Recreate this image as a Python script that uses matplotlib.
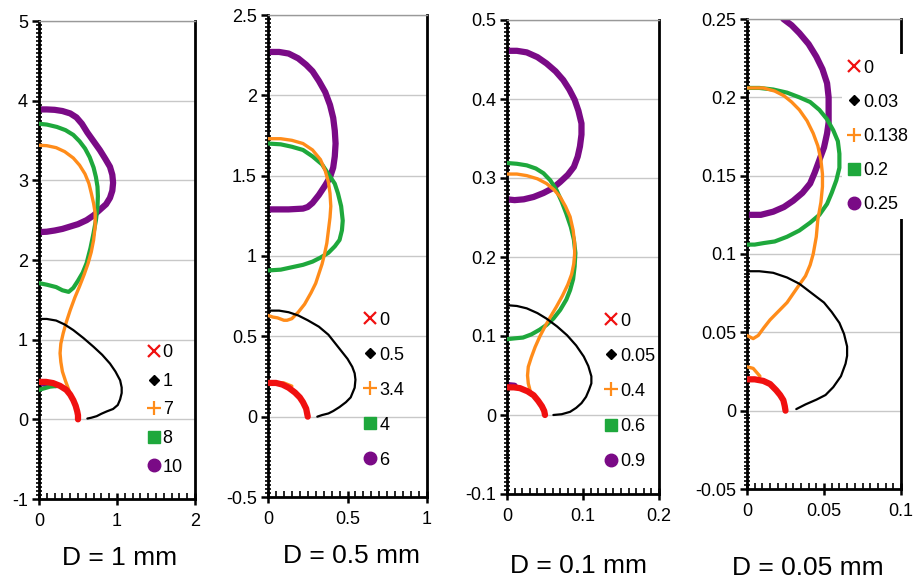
import numpy as np
import matplotlib
matplotlib.use("Agg")
import matplotlib.pyplot as plt
from matplotlib.lines import Line2D
from matplotlib.ticker import AutoMinorLocator

plt.rcParams['font.family'] = ['Liberation Sans', 'DejaVu Sans']

# ==========================
# DATA  (x, y), (None, None) = break
# ==========================
TITLES = ["D = 1 mm", "D = 0.5 mm", "D = 0.1 mm", "D = 0.05 mm"]

LEG1 = ["0", "1", "7", "8", "10"]
LEG2 = ["0", "0.5", "3.4", "4", "6"]
LEG3 = ["0", "0.05", "0.4", "0.6", "0.9"]
LEG4 = ["0", "0.03", "0.138", "0.2", "0.25"]

XT1 = [0, 1, 2]
YT1 = [-1, 0, 1, 2, 3, 4, 5]
XT2 = [0, 0.5, 1]
YT2 = [-0.5, 0, 0.5, 1, 1.5, 2, 2.5]
XT3 = [0, 0.1, 0.2]
YT3 = [-0.1, 0, 0.1, 0.2, 0.3, 0.4, 0.5]
XT4 = [0, 0.05, 0.1]
YT4 = [-0.05, 0, 0.05, 0.1, 0.15, 0.2, 0.25]

# panel 1 (D = 1 mm)
p1_red = [(0, 0.47), (0.09, 0.47), (0.18, 0.455), (0.27, 0.42), (0.35, 0.37), (0.40, 0.31),
          (0.44, 0.24), (0.47, 0.17), (0.49, 0.10), (0.50, 0.05), (0.50, 0.0)]
p1_black = [(0, 1.26), (0.1, 1.26), (0.22, 1.24), (0.33, 1.19), (0.44, 1.12), (0.57, 1.02),
            (0.70, 0.91), (0.81, 0.81), (0.91, 0.70), (0.98, 0.60), (1.04, 0.49), (1.06, 0.40),
            (1.06, 0.33), (1.04, 0.25), (1.01, 0.18), (0.95, 0.13), (0.87, 0.10), (0.80, 0.07),
            (0.74, 0.04), (0.67, 0.02), (0.62, 0.01)]
p1_orange = [(0, 3.44), (0.1, 3.435), (0.22, 3.41), (0.33, 3.36), (0.44, 3.28), (0.52, 3.19),
             (0.59, 3.08), (0.64, 2.96), (0.67, 2.84), (0.70, 2.71), (0.72, 2.59), (0.72, 2.42),
             (0.70, 2.25), (0.67, 2.10), (0.63, 1.96), (0.58, 1.82), (0.52, 1.67), (0.46, 1.53),
             (0.40, 1.37), (0.35, 1.22), (0.31, 1.08), (0.28, 0.95), (0.27, 0.83), (0.28, 0.72),
             (0.30, 0.60), (0.34, 0.48), (0.39, 0.35), (0.44, 0.24), (0.48, 0.13), (0.50, 0.04)]
p1_green = [(0, 3.71), (0.1, 3.70), (0.23, 3.67), (0.34, 3.63), (0.44, 3.57), (0.52, 3.49),
            (0.59, 3.40), (0.65, 3.29), (0.70, 3.16), (0.73, 3.04), (0.75, 2.92), (0.755, 2.80),
            (0.75, 2.67), (0.73, 2.50), (0.70, 2.34), (0.66, 2.15), (0.61, 1.96), (0.56, 1.84),
            (0.50, 1.74), (0.44, 1.65), (0.38, 1.60), (0.30, 1.62), (0.22, 1.66), (0.10, 1.69),
            (0, 1.71), (None, None), (0, 0.37), (0.14, 0.41), (0.24, 0.42)]
p1_purple = [(0, 3.89), (0.1, 3.89), (0.2, 3.885), (0.3, 3.87), (0.4, 3.84), (0.48, 3.79),
             (0.55, 3.71), (0.62, 3.60), (0.70, 3.49), (0.78, 3.38), (0.85, 3.27), (0.91, 3.17),
             (0.94, 3.07), (0.95, 2.97), (0.94, 2.87), (0.91, 2.78), (0.86, 2.70), (0.78, 2.63),
             (0.70, 2.56), (0.61, 2.50), (0.50, 2.45), (0.40, 2.42), (0.30, 2.39), (0.20, 2.37),
             (0.10, 2.355), (0, 2.35), (None, None), (0.05, 0.45), (0.22, 0.43)]

# panel 2 (D = 0.5 mm)
p2_red = [(0, 0.21), (0.05, 0.21), (0.09, 0.20), (0.13, 0.18), (0.17, 0.15), (0.20, 0.12),
          (0.22, 0.09), (0.24, 0.05), (0.25, 0.0)]
p2_black = [(0, 0.66), (0.07, 0.66), (0.13, 0.65), (0.19, 0.63), (0.25, 0.60), (0.32, 0.56),
            (0.38, 0.51), (0.42, 0.46), (0.46, 0.41), (0.50, 0.36), (0.53, 0.31), (0.545, 0.27),
            (0.55, 0.23), (0.545, 0.18), (0.52, 0.12), (0.49, 0.09), (0.45, 0.06), (0.41, 0.035),
            (0.38, 0.02), (0.34, 0.01), (0.31, 0.0)]
p2_orange = [(0, 1.73), (0.08, 1.73), (0.15, 1.72), (0.22, 1.70), (0.28, 1.66), (0.33, 1.60),
             (0.36, 1.53), (0.38, 1.46), (0.39, 1.39), (0.395, 1.31), (0.39, 1.24), (0.38, 1.16),
             (0.37, 1.08), (0.355, 1.01), (0.34, 0.95), (0.32, 0.89), (0.30, 0.83), (0.27, 0.77),
             (0.23, 0.70), (0.19, 0.65), (0.15, 0.61), (0.12, 0.60), (0.10, 0.60), (0.06, 0.615),
             (0.03, 0.62), (0, 0.63), (None, None), (0.02, 0.21), (0.10, 0.21), (0.15, 0.19)]
p2_green = [(0, 1.70), (0.08, 1.695), (0.15, 1.68), (0.22, 1.66), (0.28, 1.62), (0.34, 1.57),
            (0.38, 1.51), (0.42, 1.45), (0.44, 1.39), (0.46, 1.31), (0.47, 1.22), (0.465, 1.16),
            (0.45, 1.10), (0.42, 1.06), (0.38, 1.02), (0.33, 0.99), (0.28, 0.965), (0.22, 0.945),
            (0.15, 0.93), (0.08, 0.915), (0, 0.91)]
p2_purple = [(0, 2.27), (0.07, 2.27), (0.13, 2.26), (0.19, 2.23), (0.24, 2.19), (0.28, 2.15),
             (0.32, 2.09), (0.36, 2.02), (0.39, 1.94), (0.41, 1.86), (0.42, 1.78), (0.425, 1.70),
             (0.42, 1.62), (0.41, 1.55), (0.39, 1.49), (0.36, 1.44), (0.32, 1.38), (0.28, 1.33),
             (0.25, 1.305), (0.22, 1.295), (0.13, 1.29), (0, 1.29)]

# panel 3 (D = 0.1 mm)
p3_red = [(0, 0.035), (0.009, 0.035), (0.017, 0.034), (0.027, 0.030), (0.035, 0.025),
          (0.041, 0.018), (0.046, 0.011), (0.049, 0.005), (0.050, 0.0)]
p3_black = [(0, 0.139), (0.013, 0.138), (0.026, 0.135), (0.040, 0.129), (0.052, 0.122),
            (0.066, 0.112), (0.079, 0.101), (0.091, 0.088), (0.101, 0.074), (0.107, 0.062),
            (0.111, 0.049), (0.111, 0.040), (0.108, 0.032), (0.104, 0.023), (0.098, 0.015),
            (0.091, 0.009), (0.083, 0.004), (0.072, 0.001), (0.061, 0.0)]
p3_orange = [(0, 0.305), (0.013, 0.305), (0.026, 0.303), (0.040, 0.299), (0.052, 0.293),
             (0.062, 0.285), (0.070, 0.276), (0.077, 0.264), (0.083, 0.251), (0.087, 0.234),
             (0.089, 0.217), (0.089, 0.204), (0.088, 0.192), (0.085, 0.178), (0.080, 0.165),
             (0.073, 0.151), (0.065, 0.137), (0.057, 0.124), (0.050, 0.112), (0.043, 0.099),
             (0.037, 0.086), (0.032, 0.073), (0.028, 0.061), (0.027, 0.050), (0.028, 0.040),
             (0.032, 0.025)]
p3_green = [(0, 0.319), (0.013, 0.318), (0.026, 0.316), (0.038, 0.312), (0.048, 0.306),
            (0.057, 0.297), (0.065, 0.285), (0.072, 0.270), (0.078, 0.255), (0.084, 0.238),
            (0.088, 0.222), (0.090, 0.205), (0.089, 0.188), (0.087, 0.172), (0.083, 0.158),
            (0.078, 0.146), (0.070, 0.133), (0.061, 0.122), (0.052, 0.114), (0.043, 0.108),
            (0.032, 0.102), (0.021, 0.098), (0.010, 0.097), (0, 0.096)]
p3_purple = [(0, 0.461), (0.013, 0.461), (0.026, 0.459), (0.040, 0.453), (0.052, 0.445),
             (0.064, 0.435), (0.074, 0.424), (0.082, 0.412), (0.089, 0.399), (0.094, 0.385),
             (0.098, 0.369), (0.098, 0.355), (0.096, 0.340), (0.093, 0.327), (0.088, 0.314),
             (0.080, 0.304), (0.070, 0.295), (0.060, 0.287), (0.048, 0.281), (0.035, 0.276),
             (0.022, 0.273), (0.010, 0.272), (0, 0.273), (None, None), (0.0, 0.038),
             (0.010, 0.037)]

# panel 4 (D = 0.05 mm)
p4_red = [(0, 0.020), (0.005, 0.020), (0.0106, 0.019), (0.015, 0.017), (0.019, 0.013),
          (0.0215, 0.010), (0.0236, 0.0067), (0.0245, 0.003), (0.025, 0.0)]
p4_black = [(0, 0.089), (0.008, 0.089), (0.017, 0.088), (0.026, 0.085), (0.034, 0.081),
            (0.042, 0.075), (0.050, 0.069), (0.055, 0.063), (0.060, 0.056), (0.063, 0.049),
            (0.065, 0.041), (0.065, 0.035), (0.064, 0.030), (0.061, 0.022), (0.056, 0.015),
            (0.051, 0.010), (0.045, 0.007), (0.038, 0.004), (0.032, 0.001)]
p4_orange = [(0, 0.206), (0.0105, 0.206), (0.018, 0.204), (0.024, 0.201), (0.029, 0.197),
             (0.034, 0.192), (0.039, 0.185), (0.043, 0.177), (0.046, 0.169), (0.048, 0.160),
             (0.049, 0.151), (0.049, 0.143), (0.048, 0.133), (0.046, 0.122), (0.045, 0.111),
             (0.043, 0.100), (0.041, 0.093), (0.038, 0.086), (0.033, 0.079), (0.026, 0.069),
             (0.020, 0.063), (0.015, 0.058), (0.011, 0.053), (0.0073, 0.048), (0.004, 0.046),
             (0.002, 0.047), (0, 0.048), (None, None), (0, 0.028), (0.004, 0.027), (0.0084, 0.022)]
p4_green = [(0, 0.206), (0.008, 0.206), (0.017, 0.205), (0.026, 0.203), (0.034, 0.200),
            (0.041, 0.197), (0.047, 0.192), (0.052, 0.186), (0.056, 0.179), (0.059, 0.172),
            (0.060, 0.164), (0.060, 0.155), (0.058, 0.147), (0.055, 0.139), (0.052, 0.132),
            (0.047, 0.125), (0.041, 0.120), (0.034, 0.115), (0.026, 0.111), (0.018, 0.108),
            (0.011, 0.107), (0.005, 0.106), (0, 0.106)]
p4_purple = [(0.0236, 0.25), (0.029, 0.246), (0.034, 0.241), (0.040, 0.234), (0.045, 0.226),
             (0.049, 0.218), (0.052, 0.209), (0.053, 0.200), (0.053, 0.192), (0.053, 0.184),
             (0.052, 0.177), (0.050, 0.168), (0.047, 0.160), (0.044, 0.152), (0.041, 0.145),
             (0.036, 0.139), (0.030, 0.134), (0.024, 0.130), (0.017, 0.127), (0.009, 0.125),
             (0, 0.125)]

# ==========================
# STYLE
# ==========================
RED = "#f01010"
BLACK = "#000000"
ORANGE = "#ff8c1a"
GREEN = "#1ea83c"
PURPLE = "#7a0a86"

# (color, linewidth, zorder, legend marker, legend size)
SERIES = [
    (RED, 4.5, 6, "x", 8),
    (BLACK, 1.6, 5, "D", 5),
    (ORANGE, 2.4, 4, "+", 10),
    (GREEN, 3.0, 3, "s", 8),
    (PURPLE, 4.5, 2, "o", 9),
]

PANELS = [
    dict(curves=[p1_red, p1_black, p1_orange, p1_green, p1_purple], leg=LEG1,
         xt=XT1, yt=YT1, pos=[39, 21, 195, 499], legxy=(0.66, 0.335), spacing=0.64,
         title_xy=(120, 558)),
    dict(curves=[p2_red, p2_black, p2_orange, p2_green, p2_purple], leg=LEG2,
         xt=XT2, yt=YT2, pos=[268, 15, 427, 497], legxy=(0.57, 0.396), spacing=1.0,
         title_xy=(351, 556)),
    dict(curves=[p3_red, p3_black, p3_orange, p3_green, p3_purple], leg=LEG3,
         xt=XT3, yt=YT3, pos=[507, 20, 659, 494], legxy=(0.606, 0.394), spacing=1.0,
         title_xy=(578, 566)),
    dict(curves=[p4_red, p4_black, p4_orange, p4_green, p4_purple], leg=LEG4,
         xt=XT4, yt=YT4, pos=[747, 19, 901, 489], legxy=(0.62, 0.925), spacing=0.95,
         title_xy=(808, 568)),
]

W, H = 913, 584
fig = plt.figure(figsize=(W / 100, H / 100), dpi=100)

for i, p in enumerate(PANELS):
    x0, y0, x1, y1 = p["pos"]
    ax = fig.add_axes([x0 / W, 1 - y1 / H, (x1 - x0) / W, (y1 - y0) / H])

    for (color, lw, z, mk, ms), pts in zip(SERIES, p["curves"]):
        arr = np.array(pts, dtype=float)
        ax.plot(arr[:, 0], arr[:, 1], color=color, lw=lw, zorder=z,
                solid_capstyle="round", solid_joinstyle="round")

    ax.set_xlim(p["xt"][0], p["xt"][-1])
    ax.set_ylim(p["yt"][0], p["yt"][-1])
    ax.set_xticks(p["xt"])
    ax.set_xticklabels([f"{v:g}" for v in p["xt"]])
    ax.set_yticks(p["yt"])
    ax.set_yticklabels([f"{v:g}" for v in p["yt"]])
    ax.xaxis.set_minor_locator(AutoMinorLocator(10))
    ax.yaxis.set_minor_locator(AutoMinorLocator(20))

    ax.tick_params(axis="both", which="major", direction="out", length=5, width=1.8,
                   labelsize=13, pad=3, colors="black")
    ax.tick_params(axis="y", which="minor", direction="inout", length=5, width=1.2)
    ax.tick_params(axis="x", which="minor", direction="in", length=4, width=1.2)
    ax.tick_params(axis="x", which="major", direction="inout", length=8, pad=6)

    ax.grid(axis="y", which="major", color="#c8c8c8", lw=1.0)
    ax.set_axisbelow(True)

    for side in ["left", "bottom", "right"]:
        ax.spines[side].set_linewidth(2)
        ax.spines[side].set_color("black")
    ax.spines["top"].set_linewidth(1)
    ax.spines["top"].set_color("#999999")

    handles = [Line2D([], [], ls="none", marker=mk, color=color, markersize=ms,
                      markeredgewidth=1.6 if mk in "x+" else 1)
               for (color, lw, z, mk, ms) in SERIES]
    leg = ax.legend(handles, p["leg"], loc="upper left", bbox_to_anchor=p["legxy"],
                    frameon=(i == 3), fontsize=13, handlelength=0.7,
                    handletextpad=0.15, labelspacing=p["spacing"], borderaxespad=0,
                    borderpad=0.3)
    if i == 3:
        leg.get_frame().set_facecolor("white")
        leg.get_frame().set_edgecolor("none")
        leg.get_frame().set_alpha(1)
    leg.set_zorder(10)

    fig.text(p["title_xy"][0] / W, 1 - p["title_xy"][1] / H, TITLES[i],
             ha="center", va="center", fontsize=19)

fig.savefig("out.png", dpi=100)
